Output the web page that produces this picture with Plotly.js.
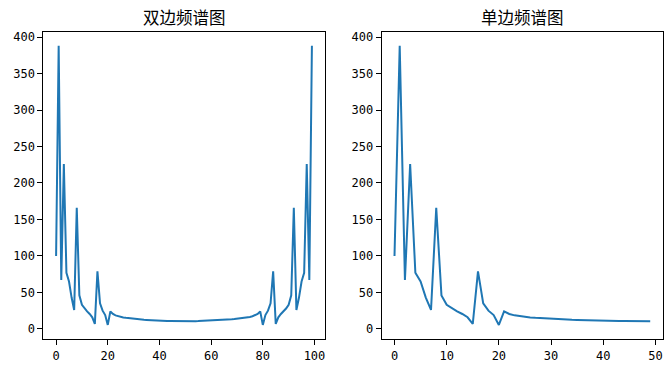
<!DOCTYPE html>
<html>
<head>
<meta charset="utf-8">
<script src="https://cdn.plot.ly/plotly-3.0.1.min.js"></script>
<style>html,body{margin:0;padding:0;background:#fff;}#chart{width:672px;height:372px;}</style>
</head>
<body>
<div id="chart"></div>
<script>
// Two-sided spectrum magnitudes (index 0..99)
const twoSided = [
  100, 388, 67, 226, 77, 65, 43, 26, 166, 46,
  33, 28, 24, 20.5, 16, 7, 79, 35, 25, 19,
  5.5, 24, 20.5, 18.6, 17.4, 16.5, 15.8, 15.2, 14.7, 14.3,
  13.9, 13.5, 13.2, 12.9, 12.6, 12.4, 12.1, 11.9, 11.7, 11.5,
  11.4, 11.2, 11.1, 11.0, 10.9, 10.8, 10.7, 10.6, 10.5, 10.4,
  10.4, 10.4, 10.5, 10.6, 10.7, 10.8, 10.9, 11.0, 11.1, 11.2,
  11.4, 11.5, 11.7, 11.9, 12.1, 12.4, 12.6, 12.9, 13.2, 13.5,
  13.9, 14.3, 14.7, 15.2, 15.8, 16.5, 17.4, 18.6, 20.5, 24,
  5.5, 19, 25, 35, 79, 7, 16, 20.5, 24, 28,
  33, 46, 166, 26, 43, 65, 77, 226, 67, 388
];
// Single-sided spectrum magnitudes (index 0..49)
const singleSided = [
  100, 388, 67, 226, 77, 65, 43, 26, 166, 46,
  33, 28, 24, 20.5, 16, 7, 79, 35, 25, 19,
  5.5, 24, 20.5, 18.6, 17.4, 16.5, 15.8, 15.2, 14.7, 14.3,
  13.9, 13.5, 13.2, 12.9, 12.6, 12.4, 12.1, 11.9, 11.7, 11.5,
  11.4, 11.2, 11.1, 11.0, 10.9, 10.8, 10.7, 10.6, 10.5, 10.4
];
const titleLeft = '双边频谱图';
const titleRight = '单边频谱图';
const yTicks = [0, 50, 100, 150, 200, 250, 300, 350, 400];
const xTicksLeft = [0, 20, 40, 60, 80, 100];
const xTicksRight = [0, 10, 20, 30, 40, 50];

const xLeft = twoSided.map((_, i) => i);
const xRight = singleSided.map((_, i) => i);

const lineStyle = {color: '#1f77b4', width: 2};
const traces = [
  {x: xLeft, y: twoSided, type: 'scatter', mode: 'lines', line: lineStyle, xaxis: 'x', yaxis: 'y', hoverinfo: 'none'},
  {x: xRight, y: singleSided, type: 'scatter', mode: 'lines', line: lineStyle, xaxis: 'x2', yaxis: 'y2', hoverinfo: 'none'}
];

const tickFont = {family: 'DejaVu Sans Mono, monospace', size: 12, color: '#000'};
function axisBase(extra) {
  return Object.assign({
    showline: true, mirror: true, linecolor: '#000', linewidth: 1,
    showgrid: false, zeroline: false,
    ticks: 'outside', ticklen: 5, tickwidth: 1, tickcolor: '#000',
    tickfont: tickFont, tickmode: 'array'
  }, extra);
}
const yDomain = [1 - 339.3/372, 1 - 31.7/372];
const titleFont = {family: 'Noto Sans CJK SC, sans-serif', size: 16.5, color: '#000'};
const layout = {
  width: 672, height: 372,
  margin: {l: 0, r: 0, t: 0, b: 0},
  paper_bgcolor: '#fff', plot_bgcolor: '#fff',
  showlegend: false,
  xaxis: axisBase({domain: [43.3/672, 324.7/672], range: [-4.95, 103.95], tickvals: xTicksLeft, anchor: 'y'}),
  yaxis: axisBase({domain: yDomain, range: [-14.2, 407.3], tickvals: yTicks, anchor: 'x'}),
  xaxis2: axisBase({domain: [381.7/672, 663/672], range: [-2.45, 51.45], tickvals: xTicksRight, anchor: 'y2'}),
  yaxis2: axisBase({domain: yDomain, range: [-14.2, 407.3], tickvals: yTicks, anchor: 'x2'}),
  annotations: [
    {text: titleLeft, xref: 'paper', yref: 'paper', x: 184/672, y: 1 - 17.5/372, xanchor: 'center', yanchor: 'middle', showarrow: false, font: titleFont},
    {text: titleRight, xref: 'paper', yref: 'paper', x: 522.3/672, y: 1 - 17.5/372, xanchor: 'center', yanchor: 'middle', showarrow: false, font: titleFont}
  ]
};
Plotly.newPlot('chart', traces, layout, {displayModeBar: false, staticPlot: true});
</script>
</body>
</html>
